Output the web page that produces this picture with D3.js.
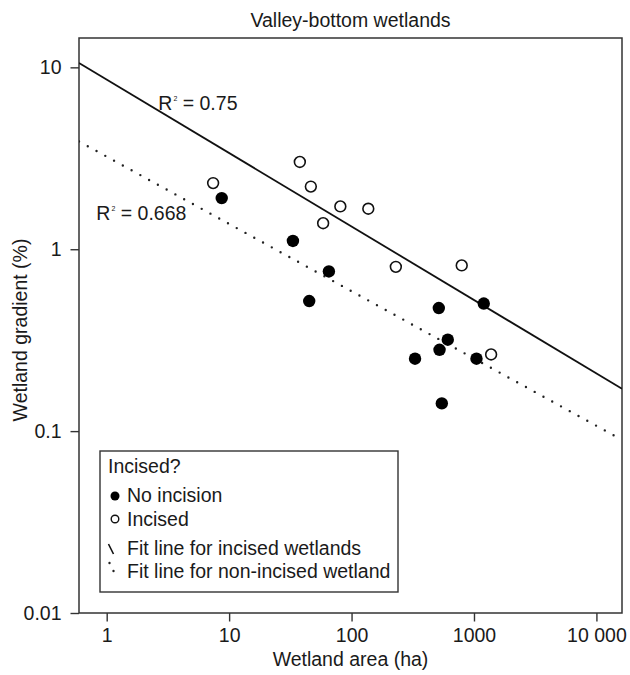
<!DOCTYPE html>
<html>
<head>
<meta charset="utf-8">
<script src="https://cdn.jsdelivr.net/npm/d3@7"></script>
<style>
  body { margin: 0; background: #fff; }
  svg text { font-family: "Liberation Sans", Arial, sans-serif; fill: #1a1a1a; }
</style>
</head>
<body>
<div id="chart"></div>
<script>
// wetland area (ha) and gradient (%)
const incisedArea = [7.4, 37.8, 46.5, 81, 137, 58.6, 230, 794, 1380];
const incisedGradient = [2.31, 3.02, 2.21, 1.72, 1.67, 1.39, 0.80, 0.815, 0.264];
const noIncisionArea = [8.7, 33.2, 65.3, 45.1, 1202, 516, 611, 523, 330, 1048, 546];
const noIncisionGradient = [1.91, 1.11, 0.755, 0.519, 0.503, 0.475, 0.318, 0.28, 0.25, 0.25, 0.142];

// power-law fits: gradient = a * area^b
const fitIncised = [8.57, -0.404];
const fitNonIncised = [3.23, -0.370];
const r2Labels = ["0.75", "0.668"];

const xTicks = [1, 10, 100, 1000, 10000];
const xTickLabels = ["1", "10", "100", "1000", "10 000"];
const yTicks = [0.01, 0.1, 1, 10];
const yTickLabels = ["0.01", "0.1", "1", "10"];

const legendTitle = "Incised?";
const legendLabels = ["No incision", "Incised", "Fit line for incised wetlands", "Fit line for non-incised wetland"];

var width = 630,
    height = 675,
    margin = { top: 38, right: 8, bottom: 62, left: 79 };

var fontSize = 19.5;
var ink = "#1a1a1a";

var svg = d3.select("#chart").append("svg")
    .attr("width", width)
    .attr("height", height);

var x = d3.scaleLog()
    .domain([0.594, 16180])
    .range([margin.left, width - margin.right]);

var y = d3.scaleLog()
    .domain([0.01, 14.5])
    .range([height - margin.bottom, margin.top]);

// title
svg.append("text")
    .attr("x", (margin.left + width - margin.right) / 2)
    .attr("y", 27)
    .attr("text-anchor", "middle")
    .style("font-size", fontSize + "px")
    .text("Valley-bottom wetlands");

// axes
var xAxis = svg.append("g")
    .attr("transform", "translate(0," + (height - margin.bottom) + ")")
    .call(d3.axisBottom(x)
        .tickValues(xTicks)
        .tickFormat((d, i) => xTickLabels[i])
        .tickSize(8.5)
        .tickSizeOuter(0)
        .tickPadding(7));

var yAxis = svg.append("g")
    .attr("transform", "translate(" + margin.left + ",0)")
    .call(d3.axisLeft(y)
        .tickValues(yTicks)
        .tickFormat((d, i) => yTickLabels[i])
        .tickSize(8.5)
        .tickSizeOuter(0)
        .tickPadding(9));

[xAxis, yAxis].forEach(function(g) {
    g.select(".domain").remove();
    g.selectAll("line").attr("stroke", "#333").attr("stroke-width", 1.4);
    g.selectAll("text")
        .attr("fill", ink)
        .style("font-size", fontSize + "px")
        .style("font-family", "'Liberation Sans', Arial, sans-serif");
});

// plot frame
svg.append("rect")
    .attr("x", margin.left)
    .attr("y", margin.top)
    .attr("width", width - margin.left - margin.right)
    .attr("height", height - margin.top - margin.bottom)
    .attr("fill", "none")
    .attr("stroke", "#333")
    .attr("stroke-width", 1.5);

// axis titles
svg.append("text")
    .attr("x", (margin.left + width - margin.right) / 2)
    .attr("y", 666)
    .attr("text-anchor", "middle")
    .style("font-size", fontSize + "px")
    .text("Wetland area (ha)");

svg.append("text")
    .attr("transform", "translate(27," + 330 + ") rotate(-90)")
    .attr("text-anchor", "middle")
    .style("font-size", fontSize + "px")
    .text("Wetland gradient (%)");

// fit lines across the whole x range
svg.append("clipPath").attr("id", "plot-clip")
    .append("rect")
    .attr("x", margin.left)
    .attr("y", margin.top)
    .attr("width", width - margin.left - margin.right)
    .attr("height", height - margin.top - margin.bottom);

var line = d3.line()
    .x(d => x(d[0]))
    .y(d => y(d[1]));

function fitPoints(fit) {
    return x.domain().map(a => [a, fit[0] * Math.pow(a, fit[1])]);
}

svg.append("path")
    .attr("clip-path", "url(#plot-clip)")
    .attr("d", line(fitPoints(fitIncised)))
    .attr("fill", "none")
    .attr("stroke", "#111")
    .attr("stroke-width", 1.8);

svg.append("path")
    .attr("clip-path", "url(#plot-clip)")
    .attr("d", line(fitPoints(fitNonIncised)))
    .attr("fill", "none")
    .attr("stroke", "#222")
    .attr("stroke-width", 2.4)
    .attr("stroke-linecap", "round")
    .attr("stroke-dasharray", "0 10");

// R² annotations, anchored in data space
var r2Pos = [[2.64, 5.85], [0.823, 1.45]];
r2Labels.forEach(function(lbl, i) {
    var t = svg.append("text")
        .attr("x", x(r2Pos[i][0]))
        .attr("y", y(r2Pos[i][1]))
        .style("font-size", fontSize + "px");
    t.append("tspan").text("R");
    t.append("tspan").attr("dy", -9).attr("dx", 1).style("font-size", "7px").text("2");
    t.append("tspan").attr("dy", 9).text(" = " + lbl);
});

// points
var noIncision = noIncisionArea.map((a, i) => ({ area: a, gradient: noIncisionGradient[i] }));
var incised = incisedArea.map((a, i) => ({ area: a, gradient: incisedGradient[i] }));

svg.selectAll(".incised")
    .data(incised)
    .enter().append("circle")
    .attr("class", "incised")
    .attr("cx", d => x(d.area))
    .attr("cy", d => y(d.gradient))
    .attr("r", 5.4)
    .attr("fill", "#fff")
    .attr("stroke", "#111")
    .attr("stroke-width", 1.6);

svg.selectAll(".no-incision")
    .data(noIncision)
    .enter().append("circle")
    .attr("class", "no-incision")
    .attr("cx", d => x(d.area))
    .attr("cy", d => y(d.gradient))
    .attr("r", 6.2)
    .attr("fill", "#000");

// legend
var legend = svg.append("g").attr("transform", "translate(100,451)");

legend.append("rect")
    .attr("width", 298)
    .attr("height", 141)
    .attr("fill", "#fff")
    .attr("stroke", "#333")
    .attr("stroke-width", 1.4);

legend.append("text")
    .attr("x", 8)
    .attr("y", 22)
    .style("font-size", fontSize + "px")
    .text(legendTitle);

var rowY = [51, 75, 104, 127];

legend.selectAll(".legend-label")
    .data(legendLabels)
    .enter().append("text")
    .attr("class", "legend-label")
    .attr("x", 27)
    .attr("y", (d, i) => rowY[i])
    .style("font-size", fontSize + "px")
    .text(d => d);

legend.append("circle")
    .attr("cx", 15).attr("cy", rowY[0] - 6)
    .attr("r", 4.5).attr("fill", "#000");

legend.append("circle")
    .attr("cx", 15).attr("cy", rowY[1] - 7)
    .attr("r", 3.8).attr("fill", "#fff")
    .attr("stroke", "#111").attr("stroke-width", 1.4);

legend.append("line")
    .attr("x1", 8.5).attr("y1", rowY[2] - 11)
    .attr("x2", 13.5).attr("y2", rowY[2] - 1)
    .attr("stroke", "#111").attr("stroke-width", 1.6);

legend.selectAll(".legend-dot")
    .data([[9.5, rowY[3] - 15], [13.5, rowY[3] - 7]])
    .enter().append("circle")
    .attr("class", "legend-dot")
    .attr("cx", d => d[0]).attr("cy", d => d[1])
    .attr("r", 1.2).attr("fill", "#222");
</script>
</body>
</html>
